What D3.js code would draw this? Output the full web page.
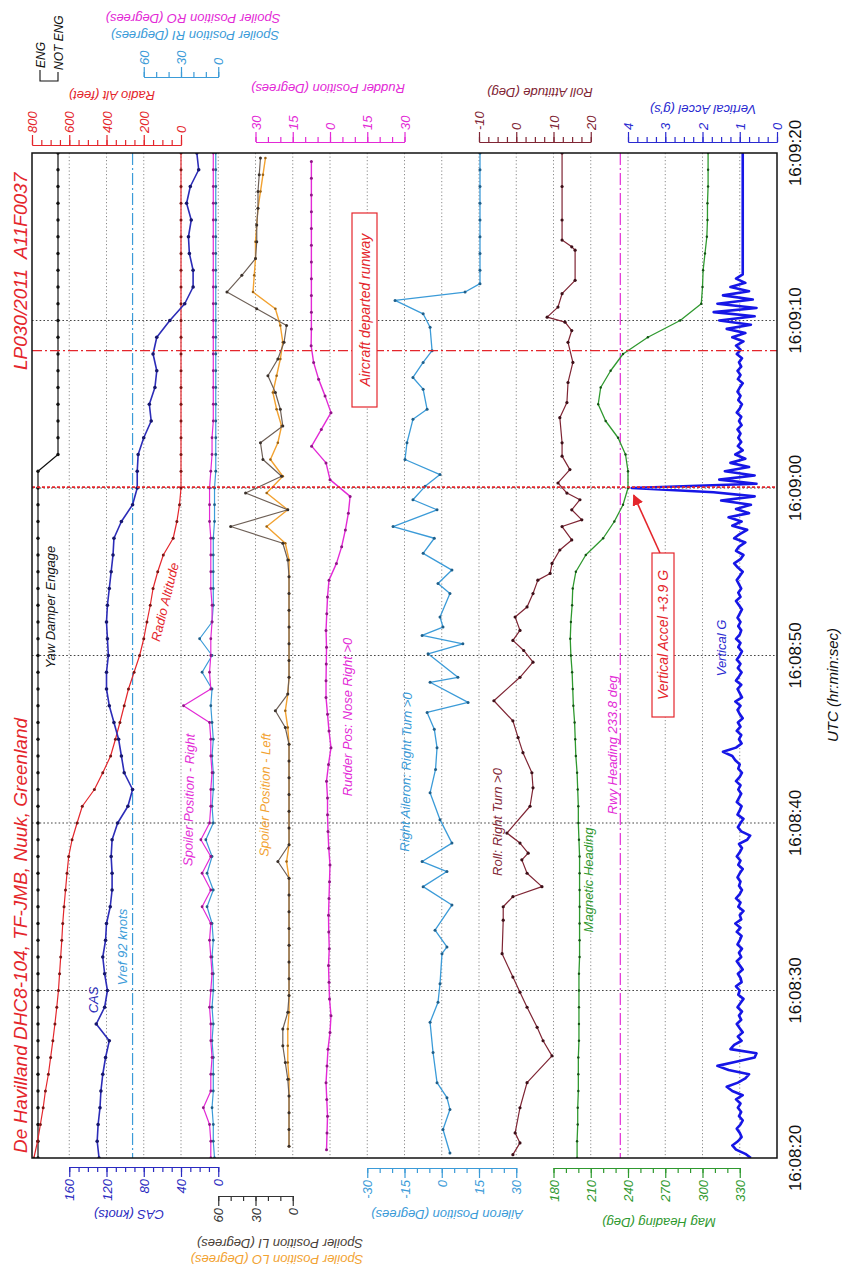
<!DOCTYPE html>
<html><head><meta charset="utf-8">
<script src="https://cdn.jsdelivr.net/npm/d3@7"></script>
<style>
html,body{margin:0;padding:0;background:#fff;}
svg{display:block;font-family:"Liberation Sans",Arial,sans-serif;}
</style></head><body>
<svg id="chart" width="842" height="1271"></svg>
<script>
// ---------------- DATA (time t = seconds after 16:08:20) ----------------
const timeTicks  = [0, 10, 20, 30, 40, 50, 60];
const timeLabels = ["16:08:20","16:08:30","16:08:40","16:08:50","16:09:00","16:09:10","16:09:20"];

// Yaw damper discrete, 1 Hz from t=0
const yawDamper = ["ENG","ENG","ENG","ENG","ENG","ENG","ENG","ENG","ENG","ENG",
  "ENG","ENG","ENG","ENG","ENG","ENG","ENG","ENG","ENG","ENG",
  "ENG","ENG","ENG","ENG","ENG","ENG","ENG","ENG","ENG","ENG",
  "ENG","ENG","ENG","ENG","ENG","ENG","ENG","ENG","ENG","ENG",
  "ENG","ENG","NOT ENG","NOT ENG","NOT ENG","NOT ENG","NOT ENG","NOT ENG","NOT ENG","NOT ENG",
  "NOT ENG","NOT ENG","NOT ENG","NOT ENG","NOT ENG","NOT ENG","NOT ENG","NOT ENG","NOT ENG","NOT ENG","NOT ENG"];

// Radio altitude (feet), 1 Hz from t=0
const radioAlt = [790,770,755,740,728,712,700,688,677,667,658,652,646,640,635,628,620,612,603,585,
  558,530,465,420,378,352,328,305,282,252,222,200,183,165,150,125,95,42,22,8,
  0,0,0,0,0,0,0,0,0,0,0,0,0,0,0,0,0,0,0,0,0];

// CAS (knots), 1 Hz from t=0
const cas = [128,130,129,127,126,124,121,117,131,122,119,122,124,121,120,116,114,114,115,114,
  108,97,92,101,104,107,112,117,120,120,118,119,120,119,117,115,113,112,104,92,
  87,87,86,80,72,74,68,66,70,66,52,36,27,27,31,32,29,34,30,21,23];
const vref = 92;

// Spoiler position right (deg), 1 Hz from t=0
const spoilerRO = [6,6,7,12,6,6,5,6,6,7, 6,5,6,7,6,13,6,13,6,14, 7,6,6,5,6,6,7,28,6,7,
  6,6,5,5,6,6,6,6,7,7, 7,6,5,5,4,4,4,4,4,4, 4,4,4,4,4,4,4,4,4,4,4];
const spoilerRI = [3,4,4,5,4,4,4,5,4,5, 4,4,5,4,5,9,4,9,5,10, 4,5,4,4,5,4,5,6,5,13,
  5,15,5,4,4,4,4,4,3,3, 3,2,2,2,2,2,2,2,2,2, 2,2,2,2,2,2,2,2,2,2,2];

// Spoiler position left (deg), 1 Hz from t=0.7
const spoilerLStart = 0.7;
const spoilerLI = [3,3,3,3,4,6,8,8,4,3, 3,3,3,3,3,3,3,12,3,3, 3,3,3,3,3,6,14,4,3,3,
  3,3,3,3,3,4,8,50,4,38, 9,24,26,8,10,14,20,12,7,5, 29,53,41,30,29,29,28,28,27,26];
const spoilerLO = [3,3,3,3,3,4,4,4,3,3, 3,3,3,3,3,3,3,5,3,3, 3,3,3,3,3,4,6,4,3,3,
  3,3,3,3,3,3,6,21,4,21, 8,18,12,9,13,16,13,10,8,10, 14,32,31,30,30,29,28,26,24,22];

// Rudder position (deg), 1 Hz from t=0.5
const rudderStart = 0.5;
const rudder = [-1.4,-1.2,-1.0,-1.3,-1.6,-1.2,-0.8,0,0.4,-0.2, -0.4,-0.6,-0.3,-0.5,-0.6,-0.4,-0.2,0,-0.5,-0.8,
  -1.0,-1.0,-1.4,-0.6,0.4,-0.4,-1.0,-1.6,-1.6,-1.5, -1.4,-1.6,-1.3,-1.0,-0.4,2.6,4.7,6.2,7.4,8.1,
  0,-1.6,-7.4,-3.5,0.4,-2.0,-4.6,-6.6,-7.6,-7.5, -7.5,-7.5,-7.5,-7.5,-7.5,-7.5,-7.5,-7.5,-7.5,-7.5];

// Aileron position (deg)
const aileronT = [0.3,1.7,2.9,3.6,4.5,6.3,8.1,9.3,10.4,12.2, 12.6,13.6,15.1,16.2,17.1,17.7,18.8,20.2,21.8,23.2,
  24.5,25.6,26.6,27.2,28.4,28.7,30.1,30.7,31.2,31.7, 32.3,33.7,34.3,35.1,36.1,37.0,37.7,38.7,39.3,40.1,
  40.8,41.7,42.7,44.1,44.7,45.9,46.6,47.5,48.2,49.6, 50.4,51.2,51.7,52.2,53,54,55,56,57,58,59,60];
const aileronV = [3.3,0.5,3.3,2.1,-1.9,-3.5,-4.7,-1.5,-0.7,0.1, 2.1,-2.7,4.1,-7.5,2.1,-7.9,4.1,-0.7,-4.7,-2.5,
  -1.9,-3.0,-5.9,10.6,-4.7,6.5,-5.5,8.5,-7.9,0.5, -0.7,3.3,-1.5,4.1,-7.5,-3.0,-19.6,-1.9,-11.6,-6.7,
  -0.7,-14.8,-14.0,-11.6,-5.9,-7.5,-11.6,-7.5,-3.9,-4.7, -7.5,-18.8,9.4,15.4,15.4,15.4,15.4,15.4,15.4,15.4,15.4,15.4];

// Roll attitude (deg)
const rollT = [0.2,0.9,1.5,3.0,4.5,6.1,7.0,7.8,9.0,9.9, 10.8,12.2,14.2,15.0,15.6,16.2,17.0,17.8,18.2,18.8,
  19.4,21.0,22.1,23.0,24.2,25.1,26.1,27.3,28.7,29.6, 30.3,30.9,31.5,32.3,32.9,33.7,34.5,34.9,35.5,36.3,
  36.9,37.7,38.1,38.7,39.3,39.7,40.3,41.1,41.9,42.7, 44.2,45.1,46.3,47.5,48.7,49.4,49.9,50.2,50.8,51.6,
  52.4,54.2,54.4,54.8,56,58,60];
const rollV = [-0.9,1.0,-0.3,1.0,2.9,9.6,7.2,5.6,2.9,1.0, -0.9,-3.8,-3.5,-3.5,-0.9,6.9,2.9,1.5,3.2,1.0,
  -2.5,3.7,4.5,4.2,1.8,0.5,-0.9,-6.0,1.0,4.5, 2.0,-0.9,1.0,-0.3,2.9,4.5,5.8,9.1,9.6,11.7,
  14.9,12.3,17.6,14.9,17.1,13.6,11.2,14.4,12.3,12.3, 11.7,13.6,13.9,15.2,13.9,14.9,13.1,8.3,11.2,12.3,
  15.8,15.8,14.9,12.3,12.3,12.3,12.3];

// Magnetic heading (deg), 1 Hz from t=0
const magHeading = [199,199,199.5,199.5,200,200,200,200.5,200.5,200.5, 200.5,200.5,201,201,201,201,201,201,201,200.5,
  200,200,199.5,199,198,197.5,197,196,195.5,195, 194,193.5,194,195,195.5,198,206,220,229,236,
  240,240,238,232,222,216,218,226,236,256, 282,299,300,300.5,302,303.5,304,304,304.5,304.5,304.5];
const rwyHeading = 233.8;

// Vertical acceleration (g), 4 Hz from t=0
const vertAccel = [
  0.70,0.85,1.10,1.20, 1.05,0.95,1.00,1.08, 0.98,0.92,1.02,0.96, 1.05,0.98,1.10,0.92,
  1.20,1.35,1.05,0.85, 0.75,1.30,1.60,1.10, 0.60,0.55,1.25,1.15, 0.95,1.05,0.92,1.00,
  1.08,0.96,1.02,0.94, 1.06,0.98,0.90,1.04, 1.00,1.10,0.95,0.98, 1.05,0.92,1.00,1.08,
  0.96,1.02,0.94,1.06, 1.00,0.95,1.08,0.98, 1.12,0.96,1.00,0.90, 1.04,0.98,1.10,1.00,
  0.94,1.02,0.98,1.06, 1.00,0.92,1.04,0.98, 1.08,1.00,0.94,1.02, 0.80,0.72,0.96,1.05,
  0.98,0.90,1.06,1.00, 0.95,1.08,1.02,0.96, 1.04,0.98,1.10,1.00, 0.94,1.04,1.00,1.12,
  1.20,1.45,1.10,0.95, 1.02,0.96,1.08,0.98, 1.05,0.92,1.00,1.06, 0.98,1.12,0.94,1.00,
  1.06,0.96,1.10,1.02, 0.95,1.05,0.98,1.08, 1.00,0.94,1.04,0.98, 1.10,1.00,0.96,1.04,
  0.98,1.06,1.00,0.94, 1.02,1.10,0.98,1.04, 0.96,1.02,1.08,1.00, 0.92,1.05,1.15,0.98,
  0.90,1.10,1.02,0.85, 1.15,1.00,0.80,1.20, 0.95,1.30,0.75,1.10, 0.70,1.50,0.60,1.70,
  3.90,0.55,1.55,0.60, 1.40,0.75,1.25,0.85, 1.12,0.92,1.05,0.96, 1.04,0.98,1.06,0.95,
  1.02,0.96,1.08,1.00, 0.94,1.04,0.98,1.06, 1.00,0.92,1.05,0.98, 1.06,0.96,1.02,0.94,
  1.08,0.98,1.10,0.90, 1.20,0.85,1.35,0.70, 1.55,0.60,1.70,0.55, 1.60,0.65,1.45,0.75,
  1.25,0.85,1.10,0.92, 0.92,0.92,0.92,0.92, 0.92,0.92,0.92,0.92, 0.92,0.92,0.92,0.92,
  0.92,0.92,0.92,0.92, 0.92,0.92,0.92,0.92, 0.92,0.92,0.92,0.92, 0.92,0.92,0.92,0.92,
  0.92];

// Event times
const eventImpact = 40.05;   // red dashed
const eventDeparted = 48.2;  // red dash-dot

// Axis tick values / labels
const radioTicks = [0,200,400,600,800];
const rudderTicks = [-30,-15,0,15,30];
const rudderTickLabels = ["30","15","0","15","30"];
const spoilerRTicks = [0,30,60];
const rollTicks = [-10,0,10,20];
const accelTicks = [0,1,2,3,4];
const casTicks = [0,40,80,120,160];
const spoilerLTicks = [0,30,60];
const aileronTicks = [-30,-15,0,15,30];
const headingTicks = [180,210,240,270,300,330];

// ---------------- COLOURS ----------------
const C = {
  red:"#e4262c", cas:"#2c2cb8", casDot:"#16166e", accel:"#1616e6",
  lblue:"#3b9bd8", lblueDot:"#1f5f8a", mag:"#e32ad6", magDot:"#8f1686",
  orange:"#f2a231", orangeDot:"#9a6215", gray:"#6e6057", grayDot:"#3a302a",
  maroon:"#7f2534", maroonDot:"#3e0f18", green:"#2f992f", greenDot:"#145214",
  radioDot:"#7a1515"
};

// ---------------- SCALES ----------------
const svg = d3.select("#chart");
const gx = d3.scaleLinear().domain([0,20]).range([32,777]);   // grid columns
const yT = d3.scaleLinear().domain([0,60]).range([1158,153]);  // time (page vertical)

const sRadio = d3.scaleLinear().domain([0,800]).range([gx(4),gx(0)]);
const sCas = d3.scaleLinear().domain([0,160]).range([gx(5),gx(1)]);
const sSpR = d3.scaleLinear().domain([0,60]).range([gx(5),gx(3)]);
const sSpL = d3.scaleLinear().domain([0,60]).range([gx(7),gx(5)]);
const sRud = d3.scaleLinear().domain([-30,30]).range([gx(6),gx(10)]);
const sAil = d3.scaleLinear().domain([-30,30]).range([gx(9),gx(13)]);
const sRoll = d3.scaleLinear().domain([-10,20]).range([gx(12),gx(15)]);
const sHdg = d3.scaleLinear().domain([180,330]).range([gx(14),gx(19)]);
const sAcc = d3.scaleLinear().domain([0,4]).range([gx(20),gx(16)]);
const sYaw = d3.scalePoint().domain(["ENG","NOT ENG"]).range([38,58]);

const FONT = '"Liberation Sans",Arial,sans-serif';

// clip
svg.append("defs").append("clipPath").attr("id","plotclip")
  .append("rect").attr("x",32).attr("y",153).attr("width",745).attr("height",1005);

// ---------------- GRID ----------------
const grid = svg.append("g");
grid.selectAll("line.v").data(d3.range(1,20)).join("line")
  .attr("x1",d=>gx(d)).attr("x2",d=>gx(d)).attr("y1",153).attr("y2",1158)
  .attr("stroke","#8a8a8a").attr("stroke-width",1).attr("stroke-dasharray","1.2,2.3");
grid.selectAll("line.h").data(timeTicks.slice(1,-1)).join("line")
  .attr("x1",32).attr("x2",777).attr("y1",d=>yT(d)).attr("y2",d=>yT(d))
  .attr("stroke","#444").attr("stroke-width",1.1).attr("stroke-dasharray","1.6,2.2");

// reference lines
const plot = svg.append("g").attr("clip-path","url(#plotclip)");
plot.append("line").attr("x1",sCas(vref)).attr("x2",sCas(vref)).attr("y1",153).attr("y2",1158)
  .attr("stroke",C.lblue).attr("stroke-width",1.2).attr("stroke-dasharray","12,3,2,3");
plot.append("line").attr("x1",sHdg(rwyHeading)).attr("x2",sHdg(rwyHeading)).attr("y1",153).attr("y2",1158)
  .attr("stroke",C.mag).attr("stroke-width",1.2).attr("stroke-dasharray","12,3,2,3");

// ---------------- SERIES ----------------
function drawSeries(pts, xs, color, width, dotColor, r){
  const line = d3.line().x(d=>xs(d[1])).y(d=>yT(d[0]));
  plot.append("path").datum(pts).attr("d",line).attr("fill","none")
    .attr("stroke",color).attr("stroke-width",width).attr("stroke-linejoin","round");
  if(dotColor){
    plot.append("g").selectAll("circle").data(pts).join("circle")
      .attr("cx",d=>xs(d[1])).attr("cy",d=>yT(d[0])).attr("r",r||1.6).attr("fill",dotColor);
  }
}
const perSec = (arr,start)=>arr.map((v,i)=>[start+i, v]);
const paired = (ts,vs)=>ts.map((t,i)=>[t, vs[i]]);

drawSeries(perSec(yawDamper,0), sYaw, "#111", 1.2, "#111", 1.7);
drawSeries(perSec(radioAlt,0), sRadio, C.red, 1.2, C.radioDot, 1.5);
drawSeries(perSec(spoilerRI,0), sSpR, C.lblue, 1.2, C.lblueDot, 1.4);
drawSeries(perSec(spoilerRO,0), sSpR, C.mag, 1.2, C.magDot, 1.4);
drawSeries(perSec(cas,0), sCas, C.cas, 1.6, C.casDot, 1.8);
drawSeries(perSec(spoilerLO,spoilerLStart), sSpL, C.orange, 1.4, C.orangeDot, 1.3);
drawSeries(perSec(spoilerLI,spoilerLStart), sSpL, C.gray, 1.2, C.grayDot, 1.5);
drawSeries(perSec(rudder,rudderStart), sRud, C.mag, 1.4, C.magDot, 1.5);
drawSeries(paired(aileronT,aileronV), sAil, C.lblue, 1.3, C.lblueDot, 1.5);
drawSeries(paired(rollT,rollV), sRoll, C.maroon, 1.2, C.maroonDot, 1.6);
drawSeries(perSec(magHeading,0), sHdg, C.green, 1.3, C.greenDot, 1.2);
drawSeries(vertAccel.map((v,i)=>[i/4, v]), sAcc, C.accel, 2.6, null);

// event lines
plot.append("line").attr("x1",32).attr("x2",777).attr("y1",yT(eventImpact)).attr("y2",yT(eventImpact))
  .attr("stroke",C.red).attr("stroke-width",1.6).attr("stroke-dasharray","3,2");
plot.append("line").attr("x1",32).attr("x2",777).attr("y1",yT(eventDeparted)).attr("y2",yT(eventDeparted))
  .attr("stroke",C.red).attr("stroke-width",1.3).attr("stroke-dasharray","10,3,2,3");

// frame
svg.append("rect").attr("x",32).attr("y",153).attr("width",745).attr("height",1005)
  .attr("fill","none").attr("stroke","#111").attr("stroke-width",1.5);

// ---------------- AXES ----------------
function addAxis(o){
  const gen = o.orient==="top" ? d3.axisTop : d3.axisBottom;
  const g = svg.append("g").attr("transform",`translate(0,${o.y})`);
  const [d0,d1] = o.scale.domain();
  const lo=Math.min(d0,d1), hi=Math.max(d0,d1);
  const minor = d3.range(lo, hi+o.minorStep/2, o.minorStep);
  g.append("g").call(gen(o.scale).tickValues(minor).tickSize(5).tickSizeOuter(0).tickFormat(""));
  const gm = g.append("g").call(gen(o.scale).tickValues(o.ticks).tickSize(10).tickSizeOuter(0));
  g.selectAll("path,line").attr("stroke",o.color).attr("stroke-width",1.2);
  g.selectAll("text").remove();
  gm.selectAll(".tick").append("text")
    .attr("transform", o.orient==="top" ? "translate(0,-12) rotate(-90)" : "translate(0,12) rotate(-90)")
    .attr("text-anchor", o.orient==="top" ? "start" : "end").attr("dy","0.35em")
    .attr("fill",o.color).attr("font-size",13).attr("font-style","italic").attr("font-family",FONT)
    .text((d,i)=> o.labels ? o.labels[i] : d);
  (o.titles||[]).forEach(t=>{
    svg.append("text").attr("transform",`translate(${t.x},${t.y}) rotate(180)`)
      .attr("text-anchor","middle").attr("dominant-baseline","central")
      .attr("fill",t.color||o.color).attr("font-size",13).attr("font-style","italic").attr("font-family",FONT)
      .text(t.text);
  });
}
addAxis({scale:sRadio, orient:"top", y:145, ticks:radioTicks, minorStep:50, color:C.red,
  titles:[{text:"Radio Alt (feet)", x:112, y:95}]});
addAxis({scale:sRud, orient:"top", y:142, ticks:rudderTicks, labels:rudderTickLabels, minorStep:5, color:C.mag,
  titles:[{text:"Rudder Position (Degrees)", x:328, y:88}]});
addAxis({scale:sSpR, orient:"top", y:77, ticks:spoilerRTicks, minorStep:10, color:C.lblue,
  titles:[{text:"Spoiler Position RI (Degrees)", x:195, y:35},
          {text:"Spoiler Position RO (Degrees)", x:193, y:18, color:C.mag}]});
addAxis({scale:sRoll, orient:"top", y:142, ticks:rollTicks, minorStep:2.5, color:C.maroon,
  titles:[{text:"Roll Attitude (Deg)", x:540, y:92}]});
addAxis({scale:sAcc, orient:"top", y:142, ticks:accelTicks, minorStep:0.25, color:"#2a2ad0",
  titles:[{text:"Vertical Accel (g's)", x:703, y:109}]});
addAxis({scale:sCas, orient:"bottom", y:1167, ticks:casTicks, minorStep:10, color:"#2a2ac0",
  titles:[{text:"CAS (knots)", x:129, y:1214}]});
addAxis({scale:sSpL, orient:"bottom", y:1196, ticks:spoilerLTicks, minorStep:10, color:"#333",
  titles:[{text:"Spoiler Position LI (Degrees)", x:280, y:1243, color:"#4a3f38"},
          {text:"Spoiler Position LO (Degrees)", x:277, y:1259, color:C.orange}]});
addAxis({scale:sAil, orient:"bottom", y:1168, ticks:aileronTicks, minorStep:5, color:C.lblue,
  titles:[{text:"Aileron Position (Degrees)", x:447, y:1214}]});
addAxis({scale:sHdg, orient:"bottom", y:1168, ticks:headingTicks, minorStep:10, color:C.green,
  titles:[{text:"Mag Heading (Deg)", x:659, y:1222}]});

// time axis labels
svg.append("g").selectAll("text").data(timeTicks).join("text")
  .attr("transform",d=>`translate(795,${yT(d)}) rotate(-90)`)
  .attr("text-anchor","middle").attr("dominant-baseline","central")
  .attr("font-size",17).attr("font-family",FONT).attr("fill","#111")
  .text((d,i)=>timeLabels[i]);
svg.append("text").attr("transform","translate(832,685) rotate(-90)")
  .attr("text-anchor","middle").attr("dominant-baseline","central")
  .attr("font-size",15).attr("font-style","italic").attr("font-family",FONT).attr("fill","#111")
  .text("UTC (hr:min:sec)");

// titles
svg.append("text").attr("transform","translate(27,1153) rotate(-90)")
  .attr("font-size",19).attr("font-style","italic").attr("font-family",FONT).attr("fill",C.red)
  .text("De Havilland DHC8-104, TF-JMB, Nuuk, Greenland");
svg.append("text").attr("transform","translate(27,370) rotate(-90)")
  .attr("font-size",19).attr("font-style","italic").attr("font-family",FONT).attr("fill",C.red)
  .style("white-space","pre").text("LP030/2011  A11F0037");

// ENG legend
svg.append("path").attr("d","M40,70 L40,81 L58,81 L58,72").attr("fill","none").attr("stroke","#111").attr("stroke-width",1.1);
svg.append("text").attr("transform","translate(45,68) rotate(-90)")
  .attr("font-size",12).attr("font-style","italic").attr("font-family",FONT).attr("fill","#111").text("ENG");
svg.append("text").attr("transform","translate(63,70) rotate(-90)")
  .attr("font-size",12).attr("font-style","italic").attr("font-family",FONT).attr("fill","#111").text("NOT ENG");

// annotations
const notes = [
  {text:"CAS", x:93, y:1000, color:C.cas, rot:-90},
  {text:"Vref 92 knots", x:122, y:947, color:C.lblue, rot:-90},
  {text:"Yaw Damper Engage", x:50, y:607, color:"#111", rot:-90},
  {text:"Radio Altitude", x:165, y:602, color:C.red, rot:-76},
  {text:"Spoiler Position - Right", x:189, y:800, color:C.mag, rot:-89},
  {text:"Spoiler Position - Left", x:265, y:795, color:C.orange, rot:-89},
  {text:"Rudder Pos: Nose Right >0", x:347, y:717, color:C.mag, rot:-90},
  {text:"Right Aileron: Right Turn >0", x:406, y:772, color:C.lblue, rot:-89},
  {text:"Roll: Right Turn >0", x:497, y:822, color:C.maroon, rot:-90},
  {text:"Magnetic Heading", x:588, y:880, color:C.green, rot:-90},
  {text:"Rwy Heading 233.8 deg", x:612, y:745, color:C.mag, rot:-90},
  {text:"Vertical G", x:721, y:648, color:"#2a2ad0", rot:-90}
];
svg.append("g").selectAll("text").data(notes).join("text")
  .attr("transform",d=>`translate(${d.x},${d.y}) rotate(${d.rot})`)
  .attr("text-anchor","middle").attr("dominant-baseline","central")
  .attr("font-size",13).attr("font-style","italic").attr("font-family",FONT)
  .attr("fill",d=>d.color).text(d=>d.text);

// boxed annotations
function boxNote(text, x0, y0, w, h){
  svg.append("rect").attr("x",x0).attr("y",y0).attr("width",w).attr("height",h)
    .attr("fill","#fff").attr("stroke",C.red).attr("stroke-width",1.2);
  svg.append("text").attr("transform",`translate(${x0+w/2},${y0+h/2}) rotate(-90)`)
    .attr("text-anchor","middle").attr("dominant-baseline","central")
    .attr("font-size",14).attr("font-style","italic").attr("font-family",FONT).attr("fill",C.red).text(text);
}
boxNote("Aircraft departed runway", 352, 213, 25, 194);
boxNote("Vertical Accel +3.9 G", 652, 553, 22, 164);

// arrow
svg.append("defs").append("marker").attr("id","arrowhead").attr("viewBox","0 0 10 10")
  .attr("refX",9).attr("refY",5).attr("markerWidth",7).attr("markerHeight",7).attr("orient","auto")
  .append("path").attr("d","M0,0 L10,5 L0,10 z").attr("fill",C.red);
svg.append("line").attr("x1",660).attr("y1",553).attr("x2",sAcc(3.9)+2).attr("y2",yT(eventImpact)+8)
  .attr("stroke",C.red).attr("stroke-width",1.6).attr("marker-end","url(#arrowhead)");
</script></body></html>
